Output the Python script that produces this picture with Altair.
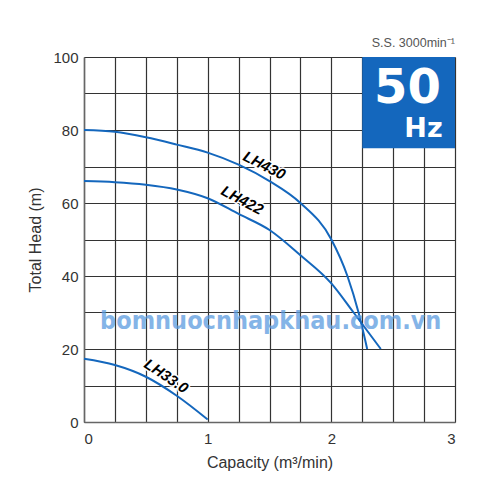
import altair as alt
import pandas as pd

# Pump curves (Capacity m3/min vs Total Head m)
lh430_q = [0, 0.25, 0.5, 0.75, 1.0, 1.25, 1.5, 1.75, 2.0, 2.13, 2.22, 2.29]
lh430_h = [80, 79.5, 78, 76, 73.8, 70.5, 66, 60, 50, 40, 30, 20]
lh422_q = [0, 0.25, 0.5, 0.75, 1.0, 1.25, 1.5, 1.75, 2.0, 2.18, 2.40]
lh422_h = [66, 65.7, 65, 63.7, 61.3, 57, 52.6, 45.7, 38, 30, 20]
lh33_q = [0, 0.25, 0.5, 0.75, 1.0]
lh33_h = [17.3, 15.6, 12.4, 7.2, 0.7]

models = ["LH430", "LH422", "LH33.0"]
label_q = [1.458, 1.28, 0.665]
label_h = [70.3, 60.8, 12.6]
label_angle = [27, 28, 34]

x_grid = [i * 0.25 for i in range(13)]
y_grid = [i * 10 for i in range(11)]

BLUE = "#1467bd"

rows = []
for m, qs, hs in zip(models, [lh430_q, lh422_q, lh33_q], [lh430_h, lh422_h, lh33_h]):
    for q, h in zip(qs, hs):
        rows.append({"model": m, "q": q, "h": h})
curves = pd.DataFrame(rows)
labels = pd.DataFrame({"model": models, "q": label_q, "h": label_h, "angle": label_angle})

xs = alt.Scale(domain=[0, 3], nice=False, zero=False)
ys = alt.Scale(domain=[0, 100], nice=False, zero=False)

xax = alt.Axis(values=x_grid,
               labelExpr="datum.value % 1 == 0 ? format(datum.value, 'd') : ''",
               title="Capacity (m³/min)", titleX=185.5, titleY=40, titleBaseline="middle",
               labelPadding=9)
yax = alt.Axis(values=y_grid,
               labelExpr="datum.value % 20 == 0 ? format(datum.value, 'd') : ''",
               title="Total Head (m)", titleX=-49, titleY=182.5, titleAngle=270,
               titleBaseline="middle", labelPadding=6)


def X(f):
    return alt.X(f, type="quantitative", scale=xs, axis=xax)


def Y(f):
    return alt.Y(f, type="quantitative", scale=ys, axis=yax)


def DX(v):
    return alt.datum(v, type="quantitative", scale=xs, axis=xax)


def DY(v):
    return alt.datum(v, type="quantitative", scale=ys, axis=yax)


one = pd.DataFrame({"a": [0]})

box = alt.Chart(one).mark_rect(color=BLUE).encode(
    x=DX(2.25), x2=alt.datum(3), y=DY(75), y2=alt.datum(100))

lines = alt.Chart(curves).mark_line(color=BLUE, strokeWidth=2, interpolate="monotone").encode(
    x=X("q"), y=Y("h"), detail="model:N")

halo = alt.Chart(labels).mark_text(font="Liberation Sans", fontSize=15, fontWeight="bold",
                                   fontStyle="italic", stroke="white", strokeWidth=3,
                                   fill="white", baseline="middle").encode(
    x=X("q"), y=Y("h"), text="model:N", angle=alt.Angle("angle:Q", scale=None))
txt = alt.Chart(labels).mark_text(font="Liberation Sans", fontSize=15, fontWeight="bold",
                                  fontStyle="italic", color="black", baseline="middle").encode(
    x=X("q"), y=Y("h"), text="model:N", angle=alt.Angle("angle:Q", scale=None))

t50 = alt.Chart(one).mark_text(
    text="50", font="DejaVu Sans", fontWeight="bold", fontSize=48, color="white",
    align="center", baseline="alphabetic").encode(x=DX(2.615), y=DY(87.3))
thz = alt.Chart(one).mark_text(
    text="Hz", font="DejaVu Sans", fontWeight="bold", fontSize=27, color="white",
    align="right", baseline="alphabetic").encode(x=DX(2.9), y=DY(78.2))
tss = alt.Chart(one).mark_text(
    text="S.S. 3000min⁻¹", font="Liberation Sans", fontSize=12.5, color="#555",
    align="right", baseline="alphabetic", dy=-10).encode(x=DX(3), y=DY(100))
wm = alt.Chart(one).mark_text(
    text="bomnuocnhapkhau.com.vn", font="DejaVu Sans Condensed", fontWeight="bold",
    fontSize=25, color="#5c9be0", opacity=0.75, align="center", baseline="middle").encode(
    x=DX(1.51), y=DY(27.7))

chart = alt.layer(box, lines, halo, txt, t50, thz, tss, wm).properties(
    width=371, height=365,
    autosize=alt.AutoSizeParams(type="none"),
    padding={"left": 76, "top": 49, "right": 37, "bottom": 70},
).configure_view(stroke=None).configure_axis(
    grid=True, gridColor="#333", gridWidth=1.2, gridOpacity=1,
    domainColor="#666", domainWidth=1.5, ticks=False,
    labelFont="Liberation Sans", labelFontSize=15, labelColor="#333",
    titleFont="Liberation Sans", titleFontSize=16, titleFontWeight="normal", titleColor="#333",
)

chart.save("out.html", embed_options={"renderer": "svg", "actions": False})
